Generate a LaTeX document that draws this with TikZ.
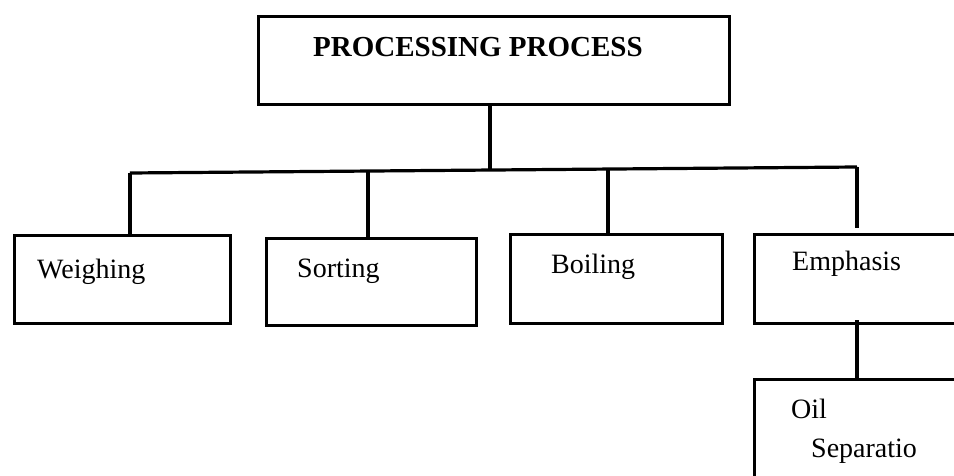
\documentclass[tikz,border=0pt]{standalone}
\usepackage{fontspec}
\setmainfont{Liberation Serif}
\begin{document}
\begin{tikzpicture}[x=1pt,y=-1pt,
  box/.style={draw, line width=3.2pt, inner sep=0pt, anchor=north west},
  conn/.style={line width=3.2pt},
  lbl/.style={anchor=base west, inner sep=0pt, font=\fontsize{28}{30}\selectfont},
  ttl/.style={anchor=base west, inner sep=0pt, font=\fontsize{29}{31}\selectfont\bfseries}]
\useasboundingbox (0,0) rectangle (954,476);
\clip (0,0) rectangle (954,476);
% boxes
\node[box, minimum width=471pt, minimum height=88pt] (top) at (257,15) {};
\node[box, minimum width=216pt, minimum height=88pt] (wei) at (13,234) {};
\node[box, minimum width=210pt, minimum height=87pt] (sor) at (265,237) {};
\node[box, minimum width=212pt, minimum height=89pt] (boi) at (509,233) {};
\node[box, minimum width=260pt, minimum height=89pt] (emp) at (753,233) {};
\node[box, minimum width=260pt, minimum height=150pt] (oil) at (753,378) {};
% texts
\node[ttl] (t0) at (313,57) {PROCESSING PROCESS};
\node[lbl] (t1) at (37,278) {Weighing};
\node[lbl] (t2) at (297,277) {Sorting};
\node[lbl] (t3) at (551,273) {Boiling};
\node[lbl] (t4) at (792,270) {Emphasis};
\node[lbl] (t5) at (791,418) {Oil};
\node[lbl] (t6) at (811,457) {Separatio};
% bar coordinates
\coordinate (j1) at (130,173);
\coordinate (j2) at (368,171);
\coordinate (jm) at (490,170);
\coordinate (j3) at (608,169);
\coordinate (j4) at (857,167);
% connectors
\draw[conn] (jm |- top.south) -- (jm);
\draw[conn] (j1) -- (j4);
\draw[conn] (j1) -- (j1 |- wei.north);
\draw[conn] (j2) -- (j2 |- sor.north);
\draw[conn] (j3) -- (j3 |- boi.north);
\draw[conn] (j4) -- ([yshift=5pt]j4 |- emp.north);
\draw[conn] ([yshift=5pt]j4 |- emp.south) -- (j4 |- oil.north);
\end{tikzpicture}
\end{document}
